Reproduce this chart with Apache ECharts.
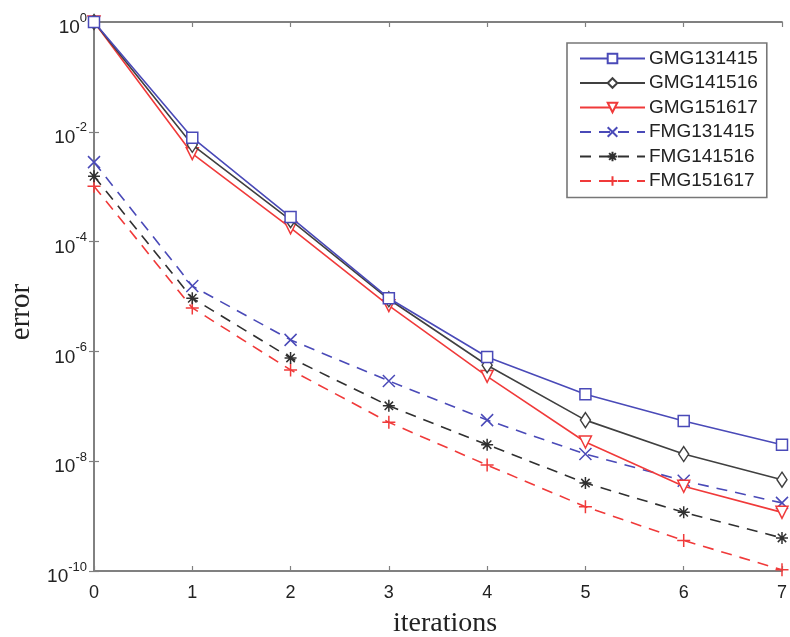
<!DOCTYPE html>
<html><head><meta charset="utf-8">
<script src="https://cdn.jsdelivr.net/npm/echarts@6/dist/echarts.min.js"></script>
<style>html,body{margin:0;padding:0;background:#fff}#c{width:790px;height:637px}</style>
</head><body><div id="c"></div>
<script>
const iterations = [0,1,2,3,4,5,6,7];
const GMG131415 = [1, 7.8e-3, 2.8e-4, 9.3e-6, 7.9e-7, 1.66e-7, 5.4e-8, 2.0e-8];
const GMG141516 = [1, 5.8e-3, 2.45e-4, 8.9e-6, 5.6e-7, 5.6e-8, 1.35e-8, 4.6e-9];
const GMG151617 = [1, 4.0e-3, 1.78e-4, 6.8e-6, 3.5e-7, 2.24e-8, 3.5e-9, 1.17e-9];
const FMG131415 = [2.8e-3, 1.55e-5, 1.62e-6, 2.9e-7, 5.6e-8, 1.35e-8, 4.4e-9, 1.74e-9];
const FMG141516 = [1.55e-3, 9.3e-6, 7.6e-7, 1.02e-7, 2.0e-8, 4.0e-9, 1.17e-9, 4.0e-10];
const FMG151617 = [1.02e-3, 6.2e-6, 4.6e-7, 5.1e-8, 8.5e-9, 1.48e-9, 3.6e-10, 1.05e-10];
const names = ['GMG131415','GMG141516','GMG151617','FMG131415','FMG141516','FMG151617'];
const values = [GMG131415,GMG141516,GMG151617,FMG131415,FMG141516,FMG151617];
const xTitle = 'iterations';
const yTitle = 'error';

const colors = ['#4a4ab8','#404040','#f03a3a','#4a4ab8','#303030','#f03a3a'];
const symbols = ['rect','diamond','triangle','path://M0 0L10 10M10 0L0 10',
  'path://M5 0L5 10M0 5L10 5M1.5 1.5L8.5 8.5M8.5 1.5L1.5 8.5','path://M5 0L5 10M0 5L10 5'];
const rot = [0,0,180,0,0,0];
const sizes = [11,[10,15],12,12,12,13];
const dashed = [false,false,false,true,true,true];

const series = names.map((n,i)=>({
  name:n, type:'line', xAxisIndex:0, yAxisIndex:0,
  data: iterations.map((x,k)=>[x, values[i][k]]),
  symbol: symbols[i], symbolSize: sizes[i], symbolRotate: rot[i], showAllSymbol:true,
  lineStyle:{color:colors[i], width:1.6, type: dashed[i] ? [11,8] : 'solid'},
  itemStyle:{color: i<3 ? '#ffffff' : colors[i], borderColor: colors[i], borderWidth:1.5},
  z: 10-i
}));

const supLabel = v => {
  const e = Math.round(Math.log10(v));
  return '{b|10}{s|' + e + '}';
};
const axisLine = {lineStyle:{color:'#808080', width:1.8}};
const tick = {inside:true, length:5, lineStyle:{color:'#808080', width:1.2}};
const chart = echarts.init(document.getElementById('c'), null, {renderer:'canvas'});
chart.setOption({
  animation:false,
  backgroundColor:'#fff',
  grid:{left:94, right:1, top:22, bottom:66, containLabel:false},
  legend:{
    orient:'vertical', left:567, top:43,
    data:names, itemWidth:65, itemHeight:12, itemGap:5.5,
    padding:[6,9,7,12],
    borderColor:'#777', borderWidth:1.6, backgroundColor:'#fff',
    textStyle:{fontFamily:'Liberation Sans', fontSize:19, color:'#222', padding:[0,0,0,-1]}
  },
  graphic:[
    {type:'text', style:{text:xTitle, x:0, y:0, align:'center', verticalAlign:'middle',
      font:'28px "Liberation Serif"', fill:'#222'}, position:[445,624]},
    {type:'text', style:{text:yTitle, x:0, y:0, align:'center', verticalAlign:'middle',
      font:'29px "Liberation Serif"', fill:'#222'}, position:[21,312], rotation:Math.PI/2}
  ],
  xAxis:[
    {type:'value', min:0, max:7, interval:1,
     axisLine:axisLine, axisTick:tick, splitLine:{show:false},
     axisLabel:{fontFamily:'Liberation Sans', fontSize:18, color:'#222', margin:13}},
    {type:'value', position:'top', min:0, max:7, interval:1,
     axisLine:axisLine, axisTick:tick, axisLabel:{show:false}, splitLine:{show:false}}
  ],
  yAxis:[
    {type:'log', logBase:10, min:1e-10, max:1, interval:2,
     axisLine:axisLine, axisTick:tick, splitLine:{show:false},
     axisLabel:{formatter:supLabel, margin:7,
       rich:{b:{fontFamily:'Liberation Sans', fontSize:19, color:'#222', verticalAlign:'bottom', padding:[12,0,0,0]},
             s:{fontFamily:'Liberation Sans', fontSize:13, color:'#222', verticalAlign:'top', padding:[5,0,0,0]}}}},
    {type:'log', logBase:10, min:1e-10, max:1, interval:2, position:'right',
     axisLine:axisLine, axisTick:tick, axisLabel:{show:false}, splitLine:{show:false}}
  ],
  series: series
});
</script></body></html>
